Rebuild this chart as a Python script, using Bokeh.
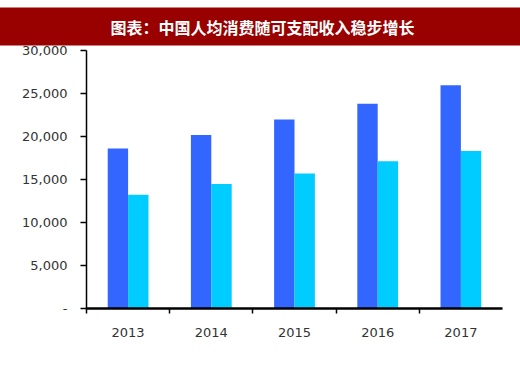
from bokeh.plotting import figure
from bokeh.models import (Range1d, FixedTicker, NumeralTickFormatter, Legend, LegendItem,
                          ColumnDataSource, Title)
from bokeh.transform import dodge
from bokeh.embed import file_html
from bokeh.resources import INLINE

title_text = "图表：中国人均消费随可支配收入稳步增长"
years = ["2013", "2014", "2015", "2016", "2017"]
income = [18600, 20170, 21970, 23820, 25970]
consumption = [13230, 14490, 15710, 17110, 18320]
y_ticks = [0, 5000, 10000, 15000, 20000, 25000, 30000]
series_names = ["中国人均可支配收入（元）", "中国人均消费支出（元）"]
colors = ["#3366FF", "#00CCFF"]

CJK = "Noto Sans CJK SC"

# category slots: centre of slot i is i + 0.5, boundaries at integers
centres = [i + 0.5 for i in range(len(years))]
bounds = list(range(len(years)))

src = ColumnDataSource(dict(pos=centres, years=years, income=income, consumption=consumption))

p = figure(frame_width=416, frame_height=258,
           x_range=Range1d(0, len(years)), y_range=Range1d(0, 30000),
           output_backend="svg", toolbar_location=None,
           min_border_left=86, min_border_right=18, min_border_top=50, min_border_bottom=60,
           outline_line_color=None, background_fill_color="white", border_fill_color="white")
p.xgrid.visible = False
p.ygrid.visible = False

p.title = Title(text=title_text, align="left", offset=-136, standoff=10,
                text_color="white", text_font=CJK, text_font_style="bold",
                text_font_size="16px", background_fill_color="#990000",
                background_fill_alpha=1.0, border_line_color=None, padding=(160, 7))

r1 = p.vbar(x=dodge("pos", -0.1225), top="income", width=0.245,
            source=src, fill_color=colors[0], line_color=None)
r2 = p.vbar(x=dodge("pos", 0.1225), top="consumption", width=0.245,
            source=src, fill_color=colors[1], line_color=None)

yax = p.yaxis[0]
yax.ticker = FixedTicker(ticks=y_ticks)
yax.formatter = NumeralTickFormatter(format="0,0")
yax.major_label_overrides = {0: "-"}
yax.axis_line_width = 1.5
yax.axis_line_color = "black"
yax.major_tick_out = 6
yax.major_tick_in = 0
yax.major_tick_line_width = 1.5
yax.minor_tick_out = 0
yax.minor_tick_in = 0
yax.major_label_standoff = 13
yax.major_label_text_font = "DejaVu Sans"
yax.major_label_text_font_size = "13px"
yax.major_label_text_color = "#333333"

xax = p.xaxis[0]
xax.ticker = FixedTicker(ticks=centres, minor_ticks=bounds)
xax.major_label_overrides = {c: y for c, y in zip(centres, years)}
xax.axis_line_width = 2.5
xax.axis_line_color = "black"
xax.major_tick_out = 5
xax.major_tick_in = 0
xax.major_tick_line_color = None
xax.minor_tick_out = 5
xax.minor_tick_in = 0
xax.minor_tick_line_width = 1.5
xax.minor_tick_line_color = "black"
xax.major_label_standoff = 14
xax.major_label_text_font = "DejaVu Sans"
xax.major_label_text_font_size = "13px"
xax.major_label_text_color = "#333333"

legend = Legend(items=[LegendItem(label=series_names[0], renderers=[r1]),
                       LegendItem(label=series_names[1], renderers=[r2])],
                location=(-26, 10), orientation="horizontal",
                glyph_width=9, glyph_height=9, label_standoff=4, spacing=51,
                padding=0, margin=0, border_line_color=None, background_fill_alpha=0,
                label_text_font=CJK, label_text_font_size="14px",
                label_text_color="#333333", label_height=14)
p.add_layout(legend, "below")

open("out.html", "w").write(file_html(p, INLINE))
